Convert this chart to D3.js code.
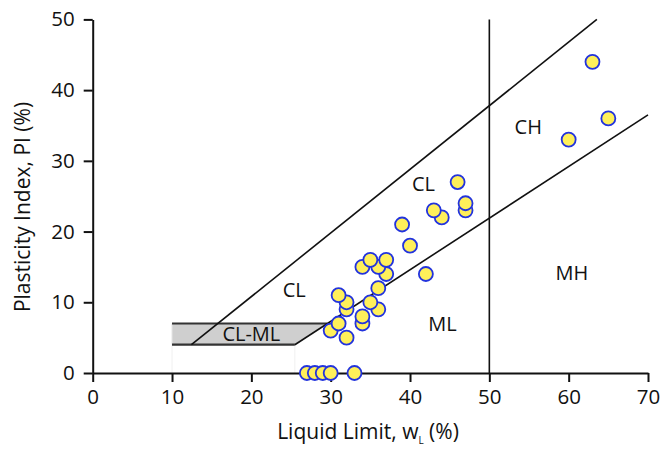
<!DOCTYPE html>
<html>
<head>
<meta charset="utf-8">
<script src="https://cdn.jsdelivr.net/npm/d3@7"></script>
<style>
    body { margin: 0; background: #fff; }
    text { font-family: "Open Sans", sans-serif; fill: #111; }
</style>
</head>
<body>
<div id="chart"></div>
<script>
// liquid limit (x) and plasticity index (y) of the samples
const liquidLimit = [27, 28, 29, 30, 33, 30, 31, 32, 34, 34, 32, 36, 35, 32, 31, 36, 37, 42, 34, 36, 35, 37, 40, 39, 44, 43, 47, 47, 46, 60, 65, 63];
const plasticityIndex = [0, 0, 0, 0, 0, 6, 7, 5, 7, 8, 9, 9, 10, 10, 11, 12, 14, 14, 15, 15, 16, 16, 18, 21, 22, 23, 23, 24, 27, 33, 36, 44];

const xTicks = [0, 10, 20, 30, 40, 50, 60, 70];
const yTicks = [0, 10, 20, 30, 40, 50];

// zone labels [text, LL, PI]
const zoneNames = ["CH", "CL", "CL", "CL-ML", "ML", "MH"];
const zoneLL = [54.9, 41.7, 25.4, 20.0, 44.1, 60.4];
const zonePI = [34.8, 26.7, 11.7, 5.5, 6.9, 14.2];

const width = 662, height = 454;
const margin = { top: 19.4, right: 14, bottom: 81, left: 92.7 };

const svg = d3.select("#chart")
    .append("svg")
    .attr("width", width)
    .attr("height", height);

const x = d3.scaleLinear().domain([0, 70]).range([margin.left, width - margin.right]);
const y = d3.scaleLinear().domain([0, 50]).range([height - margin.bottom, margin.top]);

// CL-ML band between PI 4 and 7, closed by the A-line
const aLine = pi => 20 + pi / 0.73;
const uLine = pi => 8 + pi / 0.9;

svg.append("path")
    .attr("d", d3.line()([[x(10), y(4)], [x(aLine(4)), y(4)], [x(aLine(7)), y(7)], [x(10), y(7)]]))
    .attr("fill", "#cfcfcf")
    .attr("stroke", "none");

// faint guides under the band
[10, aLine(4)].forEach(v => {
    svg.append("line")
        .attr("x1", x(v)).attr("x2", x(v))
        .attr("y1", y(0)).attr("y2", y(4))
        .attr("stroke", "#f0f0f0")
        .attr("stroke-width", 1);
});
svg.append("line")
    .attr("x1", x(10)).attr("x2", x(10))
    .attr("y1", y(4)).attr("y2", y(7))
    .attr("stroke", "#e4e4e4")
    .attr("stroke-width", 1);

[4, 7].forEach(pi => {
    svg.append("line")
        .attr("x1", x(10)).attr("x2", x(aLine(pi)))
        .attr("y1", y(pi)).attr("y2", y(pi))
        .attr("stroke", "#333")
        .attr("stroke-width", 2.2);
});

// U-line and A-line
svg.append("line")
    .attr("x1", x(uLine(4))).attr("y1", y(4))
    .attr("x2", x(uLine(50))).attr("y2", y(50))
    .attr("stroke", "#111")
    .attr("stroke-width", 1.6);

svg.append("line")
    .attr("x1", x(aLine(4))).attr("y1", y(4))
    .attr("x2", x(70)).attr("y2", y(0.73 * 50))
    .attr("stroke", "#111")
    .attr("stroke-width", 1.6);

// LL = 50 divider
svg.append("line")
    .attr("x1", x(50)).attr("x2", x(50))
    .attr("y1", y(0)).attr("y2", y(50))
    .attr("stroke", "#111")
    .attr("stroke-width", 1.6);

// axes
const xAxis = svg.append("g")
    .attr("transform", "translate(0," + y(0) + ")")
    .call(d3.axisBottom(x).tickValues(xTicks).tickSize(9).tickSizeOuter(0).tickPadding(7));
const yAxis = svg.append("g")
    .attr("transform", "translate(" + x(0) + ",0)")
    .call(d3.axisLeft(y).tickValues(yTicks).tickSize(9).tickSizeOuter(0).tickPadding(9));

[xAxis, yAxis].forEach(ax => {
    ax.select(".domain").attr("stroke", "#111").attr("stroke-width", 2);
    ax.selectAll(".tick line").attr("stroke", "#111").attr("stroke-width", 2);
    ax.selectAll(".tick text")
        .style("font-family", "'Open Sans', sans-serif")
        .style("font-size", "20.5px")
        .attr("fill", "#111");
});

// zone labels
svg.append("g").selectAll("text")
    .data(zoneNames)
    .enter().append("text")
    .attr("x", (d, i) => x(zoneLL[i]))
    .attr("y", (d, i) => y(zonePI[i]))
    .attr("dy", "0.35em")
    .attr("text-anchor", "middle")
    .style("font-size", "20px")
    .text(d => d);

// data points
svg.append("g").selectAll("circle")
    .data(liquidLimit)
    .enter().append("circle")
    .attr("cx", d => x(d))
    .attr("cy", (d, i) => y(plasticityIndex[i]))
    .attr("r", 7)
    .attr("fill", "#fff05a")
    .attr("stroke", "#2233dd")
    .attr("stroke-width", 1.8);

// axis titles
const xTitle = svg.append("text")
    .attr("x", 368)
    .attr("y", 439)
    .attr("text-anchor", "middle")
    .style("font-size", "21px");
xTitle.append("tspan").text("Liquid Limit, w");
xTitle.append("tspan").attr("dy", 5).style("font-size", "10px").text("L");
xTitle.append("tspan").attr("dy", -5).text(" (%)");

svg.append("text")
    .attr("transform", "translate(30,207) rotate(-90)")
    .attr("text-anchor", "middle")
    .style("font-size", "21px")
    .text("Plasticity Index, PI (%)");
</script>
</body>
</html>
